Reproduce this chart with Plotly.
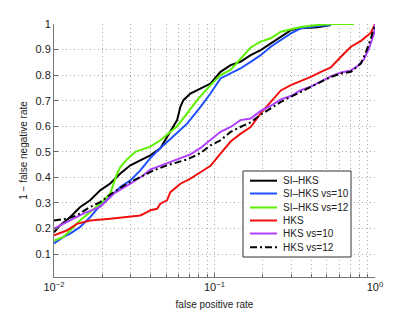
import plotly.graph_objects as go

# ---- data ----
si_hks_fpr = [0.0100,0.0109,0.0126,0.0145,0.0168,0.0194,0.0224,0.0259,0.0299,0.0345,0.0398,0.0460,0.0531,0.0585,0.0613,0.0640,0.0708,0.0818,0.0944,0.109,0.126,0.145,0.168,0.194,0.224,0.259,0.299,0.345,0.439,0.531]
si_hks_tpr = [0.185,0.212,0.244,0.283,0.310,0.349,0.376,0.415,0.447,0.467,0.486,0.514,0.578,0.624,0.676,0.702,0.728,0.748,0.767,0.813,0.839,0.852,0.878,0.898,0.924,0.950,0.976,0.983,0.987,0.996]

si_hks10_fpr = [0.0100,0.0114,0.0126,0.0145,0.0168,0.0194,0.0224,0.0259,0.0299,0.0345,0.0398,0.0460,0.0531,0.0613,0.0675,0.0818,0.0944,0.109,0.126,0.145,0.168,0.194,0.224,0.259,0.299,0.345,0.439,0.531]
si_hks10_tpr = [0.141,0.166,0.180,0.205,0.244,0.290,0.323,0.362,0.388,0.427,0.475,0.515,0.550,0.584,0.610,0.676,0.728,0.787,0.806,0.826,0.852,0.878,0.911,0.937,0.963,0.983,0.992,0.996]

si_hks12_fpr = [0.0100,0.0114,0.0126,0.0145,0.0168,0.0194,0.0224,0.0247,0.0259,0.0285,0.0321,0.0398,0.0460,0.0531,0.0585,0.0675,0.0780,0.0944,0.109,0.126,0.145,0.168,0.194,0.224,0.259,0.299,0.345,0.439,0.554,0.739]
si_hks12_tpr = [0.153,0.166,0.192,0.231,0.264,0.297,0.336,0.414,0.440,0.470,0.500,0.520,0.545,0.580,0.600,0.650,0.702,0.761,0.800,0.820,0.865,0.908,0.931,0.944,0.970,0.980,0.988,0.996,1.0,1.0]

hks_fpr = [0.0100,0.0120,0.0139,0.0168,0.0224,0.0285,0.0345,0.0380,0.0398,0.0439,0.0460,0.0506,0.0531,0.0613,0.0708,0.0818,0.0944,0.109,0.126,0.145,0.168,0.194,0.224,0.259,0.299,0.345,0.398,0.460,0.531,0.613,0.708,0.818,0.944,1.0]
hks_tpr = [0.173,0.192,0.218,0.231,0.238,0.244,0.251,0.264,0.271,0.277,0.297,0.310,0.342,0.375,0.395,0.420,0.445,0.493,0.540,0.570,0.597,0.650,0.695,0.740,0.761,0.777,0.793,0.813,0.830,0.872,0.911,0.934,0.966,1.0]

hks10_fpr = [0.0100,0.0120,0.0152,0.0194,0.0235,0.0299,0.0361,0.0398,0.0439,0.0531,0.0708,0.0818,0.0944,0.109,0.126,0.145,0.168,0.194,0.224,0.259,0.299,0.345,0.398,0.460,0.531,0.613,0.708,0.780,0.854,0.917,0.986,1.0]
hks10_tpr = [0.199,0.225,0.258,0.284,0.336,0.375,0.408,0.430,0.440,0.460,0.490,0.515,0.545,0.578,0.597,0.624,0.630,0.660,0.680,0.705,0.718,0.741,0.755,0.775,0.795,0.810,0.818,0.836,0.862,0.905,0.963,1.0]

hks12_fpr = [0.0100,0.0120,0.0139,0.0168,0.0194,0.0235,0.0285,0.0345,0.0417,0.0506,0.0675,0.0818,0.0944,0.109,0.126,0.145,0.168,0.194,0.224,0.259,0.299,0.345,0.398,0.460,0.531,0.613,0.708,0.818,0.879,0.944,1.0]
hks12_tpr = [0.231,0.238,0.251,0.284,0.303,0.342,0.375,0.401,0.427,0.447,0.470,0.495,0.525,0.545,0.578,0.597,0.615,0.645,0.670,0.695,0.715,0.735,0.754,0.774,0.793,0.806,0.813,0.846,0.891,0.944,1.0]

series_names = ["SI\u2013HKS", "SI\u2013HKS vs=10", "SI\u2013HKS vs=12", "HKS", "HKS vs=10", "HKS vs=12"]

x_tick_vals = [0.01, 0.1, 1]
x_tick_text = ["10<sup>\u22122</sup>", "10<sup>\u22121</sup>", "10<sup>0</sup>"]
x_minor_vals = [0.02, 0.03, 0.04, 0.05, 0.06, 0.07, 0.08, 0.09,
                0.2, 0.3, 0.4, 0.5, 0.6, 0.7, 0.8, 0.9]
y_tick_vals = [0.1, 0.2, 0.3, 0.4, 0.5, 0.6, 0.7, 0.8, 0.9, 1]
y_tick_text = ["0.1", "0.2", "0.3", "0.4", "0.5", "0.6", "0.7", "0.8", "0.9", "1"]

# ---- styles ----
colors = ["#000000", "#2050ff", "#5ef000", "#f01010", "#b040ff", "#000000"]
dashes = ["solid", "solid", "solid", "solid", "solid", "7px,3px,2px,3px"]
series = [
    (si_hks_fpr, si_hks_tpr),
    (si_hks10_fpr, si_hks10_tpr),
    (si_hks12_fpr, si_hks12_tpr),
    (hks_fpr, hks_tpr),
    (hks10_fpr, hks10_tpr),
    (hks12_fpr, hks12_tpr),
]

W, H = 415, 313
ML, MR, MT, MB = 54, 40, 24, 36
PW, PH = W - ML - MR, H - MT - MB

def px2paper_x(px):
    return (px - ML) / PW

def px2paper_y(py):
    return (H - MB - py) / PH

fig = go.Figure()
for (xs, ys), name, col, dash in zip(series, series_names, colors, dashes):
    fig.add_trace(go.Scatter(x=xs, y=ys, mode="lines", name=name,
                             line=dict(color=col, width=2, dash=dash)))

font_family = "Liberation Sans, Arial, Helvetica, sans-serif"

# ---- manual MATLAB-style legend (compact spacing) ----
shapes = []
annotations = []
box_x0, box_x1 = px2paper_x(243), px2paper_x(351)
box_y0, box_y1 = px2paper_y(257), px2paper_y(171)
shapes.append(dict(type="rect", xref="paper", yref="paper",
                   x0=box_x0, x1=box_x1, y0=box_y0, y1=box_y1,
                   line=dict(color="#333333", width=1), fillcolor="white", layer="above"))
row_px = [180.7, 193.5, 207.5, 220.5, 233.5, 247.3]
for name, col, dash, py in zip(series_names, colors, dashes, row_px):
    yy = px2paper_y(py)
    shapes.append(dict(type="line", xref="paper", yref="paper",
                       x0=px2paper_x(250), x1=px2paper_x(277), y0=yy, y1=yy,
                       line=dict(color=col, width=2, dash=dash), layer="above"))
    annotations.append(dict(xref="paper", yref="paper", x=px2paper_x(281), y=yy,
                            xanchor="left", yanchor="middle", text=name, showarrow=False,
                            font=dict(size=10, color="#222222", family=font_family)))

fig.update_layout(
    width=W, height=H,
    margin=dict(l=ML, r=MR, t=MT, b=MB, autoexpand=False),
    paper_bgcolor="white", plot_bgcolor="white",
    font=dict(family=font_family, size=10, color="#222222"),
    showlegend=False,
    shapes=shapes, annotations=annotations,
)

fig.update_xaxes(
    type="log", range=[-2, 0], automargin=False,
    tickmode="array", tickvals=x_tick_vals, ticktext=x_tick_text,
    ticks="inside", ticklen=4, tickcolor="#666666",
    showgrid=True, gridcolor="#a8a8a8", griddash="1px,3px", gridwidth=1,
    minor=dict(tickmode="array", tickvals=x_minor_vals, ticks="inside", ticklen=3,
               tickcolor="#666666", showgrid=True, gridcolor="#a8a8a8",
               griddash="1px,3px", gridwidth=1),
    showline=True, linecolor="#777777", linewidth=1, mirror=False,
    zeroline=False,
    title=dict(text="false positive rate", font=dict(size=10), standoff=8),
    tickfont=dict(size=11),
)
fig.update_yaxes(
    range=[0.01, 1.0], automargin=False,
    tickmode="array", tickvals=y_tick_vals, ticktext=y_tick_text,
    ticks="inside", ticklen=4, tickcolor="#666666",
    showgrid=True, gridcolor="#a8a8a8", griddash="1px,3px", gridwidth=1,
    showline=True, linecolor="#777777", linewidth=1, mirror=False,
    zeroline=False,
    title=dict(text="1 \u2212 false negative rate", font=dict(size=10), standoff=6),
    tickfont=dict(size=11),
)

fig.write_html("out.html",
               config={"displayModeBar": False, "staticPlot": True},
               post_script="document.body.style.margin='0';document.body.style.overflow='hidden';")
